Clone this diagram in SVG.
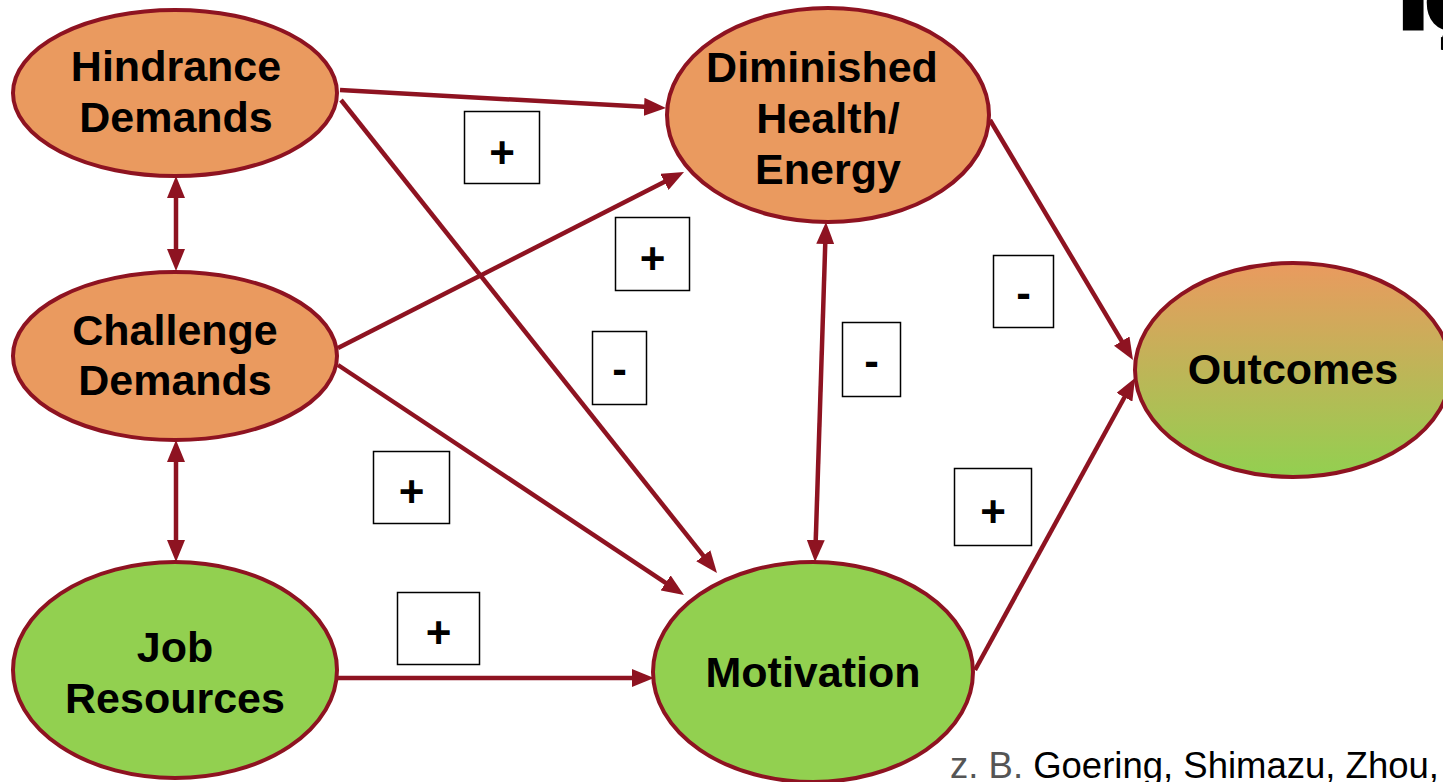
<svg xmlns="http://www.w3.org/2000/svg" width="1443" height="782" viewBox="0 0 1443 782">
<style>
.node{stroke:#8E1321;stroke-width:4}
.or{fill:#EA9A5F}
.gr{fill:#92D050}
.lbl{font-family:"Liberation Sans",Arial,sans-serif;font-weight:bold;font-size:43px;fill:#000;text-anchor:middle}
.conn line{stroke:#8E1321;stroke-width:4.5;fill:none}
.box rect{fill:#fff;stroke:#000;stroke-width:1.5}
.box text{font-family:"Liberation Sans",Arial,sans-serif;font-weight:bold;font-size:44px;fill:#000;text-anchor:middle}
</style>
<defs>
<marker id="ah" viewBox="0 0 22 18" refX="14" refY="9" markerWidth="22" markerHeight="18" markerUnits="userSpaceOnUse" orient="auto-start-reverse">
<path d="M0,0 L22,9 L0,18 z" fill="#8E1321"/>
</marker>
<linearGradient id="og" x1="0" y1="0" x2="0" y2="1">
<stop offset="0" stop-color="#EA9A5F"/>
<stop offset="1" stop-color="#92D050"/>
</linearGradient>
</defs>
<rect width="1443" height="782" fill="#fff"/>

<g id="connectors" class="conn">
<line x1="340" y1="90" x2="658" y2="107.6" marker-end="url(#ah)"/>
<line x1="341" y1="100" x2="712" y2="566.7" marker-end="url(#ah)"/>
<line x1="176" y1="184" x2="176" y2="263" marker-start="url(#ah)" marker-end="url(#ah)"/>
<line x1="338" y1="348" x2="676.9" y2="175.6" marker-end="url(#ah)"/>
<line x1="338" y1="365" x2="677.3" y2="590.6" marker-end="url(#ah)"/>
<line x1="176" y1="448" x2="176" y2="554" marker-start="url(#ah)" marker-end="url(#ah)"/>
<line x1="338" y1="678" x2="646" y2="678" marker-end="url(#ah)"/>
<line x1="825.7" y1="230" x2="815.3" y2="554" marker-start="url(#ah)" marker-end="url(#ah)"/>
<line x1="990" y1="120" x2="1128.9" y2="353.1" marker-end="url(#ah)"/>
<line x1="975" y1="670" x2="1131.2" y2="385" marker-end="url(#ah)"/>
</g>

<g id="hindrance">
<ellipse class="node or" cx="175" cy="93" rx="162" ry="83"/>
<text class="lbl" x="176" y="81">Hindrance</text>
<text class="lbl" x="176" y="132">Demands</text>
</g>
<g id="challenge">
<ellipse class="node or" cx="175" cy="356" rx="162" ry="84"/>
<text class="lbl" x="175" y="345">Challenge</text>
<text class="lbl" x="175" y="395">Demands</text>
</g>
<g id="jobresources">
<ellipse class="node gr" cx="175" cy="670" rx="162" ry="108"/>
<text class="lbl" x="175" y="662">Job</text>
<text class="lbl" x="175" y="713">Resources</text>
</g>
<g id="diminished">
<ellipse class="node or" cx="828" cy="115" rx="161" ry="107"/>
<text class="lbl" x="822" y="82">Diminished</text>
<text class="lbl" x="828" y="133">Health/</text>
<text class="lbl" x="828" y="184">Energy</text>
</g>
<g id="motivation">
<ellipse class="node gr" cx="813" cy="672" rx="160" ry="110"/>
<text class="lbl" x="813" y="687">Motivation</text>
</g>
<g id="outcomes">
<ellipse class="node" fill="url(#og)" cx="1293" cy="370" rx="158" ry="107"/>
<text class="lbl" x="1293" y="384">Outcomes</text>
</g>

<g id="labels" class="box">
<rect x="464.5" y="111.5" width="75" height="72"/><text x="502" y="168">+</text>
<rect x="615.5" y="217.5" width="74" height="73"/><text x="652.5" y="274">+</text>
<rect x="592.5" y="331.5" width="54" height="73"/><text x="619.5" y="384">-</text>
<rect x="373.5" y="451.5" width="76" height="72"/><text x="411.5" y="507">+</text>
<rect x="397.5" y="592.5" width="82" height="72"/><text x="438.5" y="648">+</text>
<rect x="842.5" y="322.5" width="58" height="74"/><text x="871.5" y="376">-</text>
<rect x="993.5" y="255.5" width="60" height="72"/><text x="1023.5" y="308">-</text>
<rect x="954.5" y="468.5" width="77" height="77"/><text x="993" y="527">+</text>
</g>

<text x="950" y="778" font-family="'Liberation Sans',Arial,sans-serif" font-size="36.5" fill="#000"><tspan fill="#555">z. B.</tspan> Goering, Shimazu, Zhou,</text>
<text x="1400" y="26.5" font-family="'Liberation Sans',Arial,sans-serif" font-weight="bold" font-size="95" fill="#000" stroke="#000" stroke-width="7">Iç</text>
</svg>
